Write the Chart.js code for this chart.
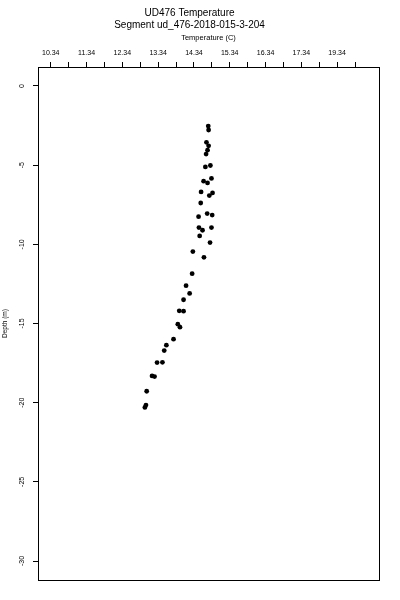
<!DOCTYPE html>
<html lang="en">
<head>
    <meta charset="UTF-8">
    <title>UD476 Temperature</title>
    <script src="https://cdn.jsdelivr.net/npm/chart.js"></script>
    <style>
        html, body { margin: 0; padding: 0; background: #fff; }
        #profile { display: block; }
    </style>
</head>
<body>
    <canvas id="profile" width="400" height="600"></canvas>
    <script>
        // readings, top of the cast to the bottom
        const temperature = [14.74, 14.75, 14.69, 14.75, 14.72, 14.68, 14.66, 14.80, 14.61, 14.72,
            14.83, 14.54, 14.77, 14.86, 14.53, 14.47, 14.71, 14.85, 14.48, 14.58,
            14.50, 14.83, 14.79, 14.31, 14.62, 14.29, 14.12, 14.22, 14.05, 13.93,
            14.05, 13.89, 13.95, 13.77, 13.57, 13.51, 13.31, 13.46, 13.17, 13.24,
            13.02, 13.00, 12.97];
        const depth = [-2.53, -2.78, -3.56, -3.78, -4.05, -4.30, -5.11, -5.02, -6.01, -6.12,
            -5.84, -6.69, -6.92, -6.75, -7.39, -8.25, -8.06, -8.15, -8.94, -9.11,
            -9.47, -8.94, -9.89, -10.46, -10.82, -11.85, -12.61, -13.10, -13.50, -14.20,
            -14.22, -15.04, -15.23, -15.99, -16.37, -16.71, -17.47, -17.45, -18.31, -18.35,
            -19.28, -20.15, -20.30];

        const xTickValues = [10.34, 10.84, 11.34, 11.84, 12.34, 12.84, 13.34, 13.84, 14.34,
            14.84, 15.34, 15.84, 16.34, 16.84, 17.34, 17.84, 18.34, 18.84];
        // the original plot labels the 18.34 tick as 19.34
        const xTickLabels = ['10.34', '', '11.34', '', '12.34', '', '13.34', '', '14.34',
            '', '15.34', '', '16.34', '', '17.34', '', '19.34', ''];
        const yTickValues = [0, -5, -10, -15, -20, -25, -30];

        const FONT = "'Liberation Sans', Arial, sans-serif";

        // box around the plot region
        const framePlugin = {
            id: 'frame',
            afterDraw(chart) {
                const { ctx, chartArea } = chart;
                const l = Math.round(chartArea.left) + 0.5;
                const t = Math.round(chartArea.top) + 0.5;
                const r = Math.round(chartArea.right) + 0.5;
                const b = Math.round(chartArea.bottom) + 0.5;
                ctx.save();
                ctx.strokeStyle = '#000';
                ctx.lineWidth = 1;
                ctx.strokeRect(l, t, r - l, b - t);
                ctx.restore();
            }
        };

        const points = temperature.map((t, i) => ({ x: t, y: depth[i] }));

        new Chart(document.getElementById('profile'), {
            type: 'scatter',
            data: {
                datasets: [{
                    data: points,
                    pointRadius: 2.4,
                    pointBackgroundColor: '#000',
                    pointBorderWidth: 0
                }]
            },
            options: {
                responsive: false,
                animation: false,
                devicePixelRatio: 1,
                layout: { padding: { top: 0, left: 0, right: 21, bottom: 20 } },
                plugins: {
                    legend: { display: false },
                    tooltip: { enabled: false },
                    title: {
                        display: true,
                        text: 'UD476 Temperature',
                        color: '#000',
                        font: { family: FONT, size: 10, weight: 'normal', lineHeight: 1.2 },
                        padding: { top: 7, bottom: 0 }
                    },
                    subtitle: {
                        display: true,
                        text: 'Segment ud_476-2018-015-3-204',
                        color: '#000',
                        font: { family: FONT, size: 10, weight: 'normal', lineHeight: 1.2 },
                        padding: { top: 0, bottom: 0 }
                    }
                },
                scales: {
                    x: {
                        type: 'linear',
                        position: 'top',
                        min: 9.984,
                        max: 19.51,
                        afterBuildTicks: scale => {
                            scale.ticks = xTickValues.map(v => ({ value: v }));
                        },
                        afterFit: scale => { scale.height = 36; },
                        ticks: {
                            autoSkip: false,
                            maxRotation: 0,
                            minRotation: 0,
                            padding: 5,
                            color: '#000',
                            font: { family: FONT, size: 7 },
                            callback: (value, index) => xTickLabels[index]
                        },
                        grid: {
                            drawOnChartArea: false,
                            drawTicks: true,
                            tickLength: 5,
                            tickColor: '#000',
                            color: '#000'
                        },
                        border: { display: false },
                        title: {
                            display: true,
                            text: 'Temperature (C)',
                            color: '#000',
                            font: { family: FONT, size: 7.5, lineHeight: 1.2 },
                            padding: { top: 2.5, bottom: 0 }
                        }
                    },
                    y: {
                        type: 'linear',
                        min: -31.2,
                        max: 1.2,
                        afterBuildTicks: scale => {
                            scale.ticks = yTickValues.map(v => ({ value: v }));
                        },
                        afterFit: scale => { scale.width = 38; },
                        ticks: {
                            minRotation: 90,
                            maxRotation: 90,
                            crossAlign: 'center',
                            padding: 6,
                            color: '#000',
                            font: { family: FONT, size: 7 },
                            callback: value => String(value)
                        },
                        grid: {
                            drawOnChartArea: false,
                            drawTicks: true,
                            tickLength: 5,
                            tickColor: '#000',
                            color: '#000'
                        },
                        border: { display: false },
                        title: {
                            display: true,
                            text: 'Depth (m)',
                            color: '#000',
                            font: { family: FONT, size: 6.5, lineHeight: 1.2 },
                            padding: { top: 1, bottom: 0 }
                        }
                    }
                }
            },
            plugins: [framePlugin]
        });
    </script>
</body>
</html>
